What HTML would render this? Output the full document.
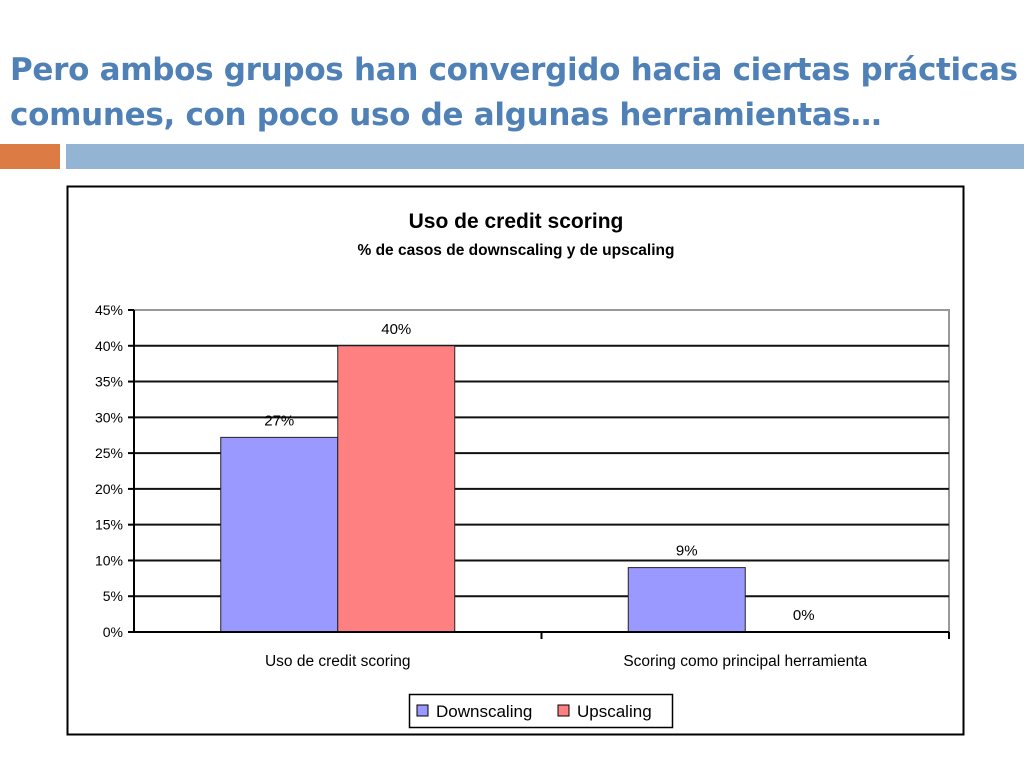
<!DOCTYPE html>
<html><head><meta charset="utf-8">
<style>
html,body{margin:0;padding:0;background:#fff;width:1024px;height:768px;overflow:hidden;font-family:"Liberation Sans",sans-serif;}
#title{position:absolute;left:10px;top:48px;margin:0;font-family:"DejaVu Sans","Liberation Sans",sans-serif;font-weight:bold;font-size:31px;line-height:45px;color:#4f81b7;letter-spacing:-0.3px;}
#bar-orange{position:absolute;left:0;top:144px;width:60px;height:25px;background:#dd7b45;}
#bar-blue{position:absolute;left:66px;top:144px;width:958px;height:25px;background:#94b4d4;}
svg{position:absolute;left:0;top:0;}
</style></head><body>
<h1 id="title">Pero ambos grupos han convergido hacia ciertas prácticas<br>comunes, con poco uso de algunas herramientas…</h1>
<div id="bar-orange"></div>
<div id="bar-blue"></div>
<svg id="chart" width="1024" height="768"></svg>
<script>
const categories = ["Uso de credit scoring", "Scoring como principal herramienta"];
const downscaling = [27.2, 9];
const upscaling = [40, 0];
const downLabels = ["27%", "9%"];
const upLabels = ["40%", "0%"];
const yTicks = [0,5,10,15,20,25,30,35,40,45];
const seriesNames = ["Downscaling", "Upscaling"];

const NS="http://www.w3.org/2000/svg";
const svg=document.getElementById('chart');
function mk(tag,attrs,parent){const e=document.createElementNS(NS,tag);for(const k in attrs)e.setAttribute(k,attrs[k]);(parent||svg).appendChild(e);return e;}
const X0=134,X1=949,Y0=632,Y1=310,YMAX=45;
function y(v){return Y0-(v/YMAX)*(Y0-Y1);}
const catW=(X1-X0)/categories.length;
const barW=117;
function xBar(ci,si){return X0+catW*ci+catW/2-barW+si*barW;}

let frame=mk('rect',{x:67.5,y:186.5,width:896,height:548,fill:'#fff',stroke:'#000','stroke-width':2});


let t1=mk('text',{x:516,y:228,'text-anchor':'middle','font-size':21,'font-weight':'bold',fill:'#000'});
t1.textContent="Uso de credit scoring";


let t2=mk('text',{x:516,y:255,'text-anchor':'middle','font-size':15.5,'font-weight':'bold',fill:'#000'});
t2.textContent="% de casos de downscaling y de upscaling";



// plot border right/top
mk('polyline',{points:`${X0},${Y1} ${X1},${Y1} ${X1},${Y0}`,fill:'none',stroke:'#999','stroke-width':2});
yTicks.forEach(v=>{
  if(v>0&&v<YMAX){let g=mk('line',{x1:X0,x2:X1,y1:y(v),y2:y(v),stroke:'#111','stroke-width':2});
  
  }
  mk('line',{x1:X0-6,x2:X0,y1:y(v),y2:y(v),stroke:'#000','stroke-width':2});
  let l=mk('text',{x:X0-11,y:y(v)+5,'text-anchor':'end','font-size':14,fill:'#000'});
  l.textContent=v+'%';
  
  
});
const colors=['#9999ff','#ff8080'];
const series=[downscaling,upscaling];
const labels=[downLabels,upLabels];
categories.forEach((c,ci)=>{
  series.forEach((s,si)=>{
    const bx=xBar(ci,si);
    if(s[ci]>0){let r=mk('rect',{x:bx,y:y(s[ci]),width:barW,height:Y0-y(s[ci]),fill:colors[si],stroke:'#222','stroke-width':1});
    
    }
    let vl=mk('text',{x:bx+barW/2,y:y(s[ci])-12,'text-anchor':'middle','font-size':15,fill:'#000'});
    vl.textContent=labels[si][ci];
    
    
  });
  let cl=mk('text',{x:X0+catW*ci+catW/2,y:666,'text-anchor':'middle','font-size':15.5,fill:'#000'});
  cl.textContent=c;
  
  
  mk('line',{x1:X0+catW*(ci+1),x2:X0+catW*(ci+1),y1:Y0,y2:Y0+7,stroke:'#000','stroke-width':2});
});
mk('line',{x1:X0,x2:X0,y1:Y1,y2:Y0,stroke:'#000','stroke-width':2});
mk('line',{x1:X0,x2:X1,y1:Y0,y2:Y0,stroke:'#000','stroke-width':2});

// legend
let lg=mk('rect',{x:409.5,y:694.5,width:263,height:33,fill:'#fff',stroke:'#000','stroke-width':1.5});


const legX=[417,558];
seriesNames.forEach((n,i)=>{
  mk('rect',{x:legX[i],y:705,width:11,height:11,fill:colors[i],stroke:'#000','stroke-width':1});
  let lt=mk('text',{x:legX[i]+19,y:717,'font-size':17,fill:'#000'});
  lt.textContent=n;
  
  
});
</script>
</body></html>
